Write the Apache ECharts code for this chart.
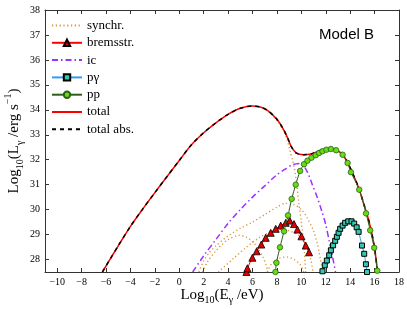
<!DOCTYPE html>
<html><head><meta charset="utf-8">
<script src="https://cdn.jsdelivr.net/npm/echarts@6/dist/echarts.min.js"></script>
<style>html,body{margin:0;padding:0;background:#fff}#c{width:407px;height:309px}</style>
</head><body><div id="c"></div>
<script>
const xTicks = [-10,-8,-6,-4,-2,0,2,4,6,8,10,12,14,16,18];
const yTicks = [28,29,30,31,32,33,34,35,36,37,38];

const total = [[-6.3,27.5],[-5,28.55],[-4,29.33],[-3,30.02],[-2,30.68],[-1,31.33],[0,31.97],[1,32.6],[2,33.08],[3,33.48],[4,33.82],[5,34.06],[6,34.15],[6.7,34.1],[7.3,33.95],[8,33.62],[8.5,33.25],[8.9,32.85],[9.2,32.5],[9.6,32.26],[10.2,32.2],[10.8,32.23],[11.6,32.38],[12.4,32.43],[13.0,32.35],[13.4,32.2],[13.8,31.87],[14.3,31.35],[14.75,30.8],[15.1,30.25],[15.45,29.7],[15.75,29.1],[16.0,28.45],[16.25,27.5]];
const totalAbs = total;
const synchrMain = [[7.3,33.93],[8.0,33.58],[8.5,33.2],[8.86,32.75],[9.0,32.5],[9.13,32.25],[9.27,32.0],[9.4,31.73],[9.6,31.1],[9.81,30.2],[10.0,29.5],[10.15,28.85],[10.25,28.3],[10.36,27.5]];
const synchrOuter = [[1.6,27.5],[2.0,27.95],[2.5,28.3],[3.0,28.55],[4.0,28.95],[5.0,29.25],[6.0,29.5],[7.0,29.8],[8.0,30.1],[8.7,30.25],[9.3,30.22],[10.0,30.0],[10.5,29.65],[11.0,29.15],[11.3,28.65],[11.55,28.05],[11.75,27.5]];
const synchrMid = [[1.9,27.5],[2.3,27.9],[3.0,28.35],[3.5,28.6],[4.0,28.8],[4.9,28.97],[5.5,28.9],[6.1,28.67],[6.5,28.4],[6.85,28.1],[7.1,27.8],[7.25,27.5]];
const synchrInner = [[3.2,27.5],[4.34,28.0],[5.44,28.47],[6.53,28.87],[7.5,29.1],[8.5,29.2],[9.3,29.1],[9.84,28.95],[10.12,28.8],[10.53,28.33],[10.8,27.93],[10.95,27.5]];
const synchrLow = [[7.2,27.5],[7.6,27.85],[8.2,28.05],[8.8,28.1],[9.4,28.0],[9.9,27.8],[10.2,27.5]];
const brems = [[5.5,27.5],[5.58,27.65],[5.99,28.07],[6.34,28.33],[6.72,28.6],[7.08,28.87],[7.49,29.07],[7.9,29.23],[8.31,29.36],[8.72,29.47],[9.05,29.56],[9.4,29.42],[9.68,29.2],[10.01,28.93],[10.36,28.56],[10.63,28.29]];
const ic = [[1.1,27.5],[2.0,28.15],[3.0,28.8],[4.0,29.45],[5.0,30.0],[6.0,30.5],[7.0,30.95],[8.0,31.4],[8.6,31.6],[9.3,31.8],[9.95,31.85],[10.5,31.5],[10.9,31.0],[11.3,30.5],[11.7,29.9],[12.0,29.4],[12.3,28.7],[12.6,28.0],[12.8,27.5]];
const pgamma = [[11.73,27.53],[11.92,27.77],[12.09,27.96],[12.28,28.17],[12.42,28.37],[12.6,28.57],[12.77,28.75],[12.91,28.91],[13.05,29.07],[13.18,29.23],[13.38,29.36],[13.59,29.47],[13.84,29.53],[14.11,29.53],[14.33,29.44],[14.53,29.29],[14.69,29.11],[14.97,28.56],[15.15,28.23],[15.29,27.81],[15.38,27.5]];
const pp = [[7.88,27.5],[7.96,27.87],[8.25,28.49],[8.58,29.13],[8.91,29.77],[9.21,30.43],[9.54,31.0],[9.9,31.55],[10.22,31.82],[10.5,31.96],[10.83,32.08],[11.18,32.18],[11.45,32.27],[11.73,32.34],[12.05,32.4],[12.42,32.43],[12.85,32.38],[13.38,32.2],[13.79,31.87],[14.06,31.5],[14.74,30.8],[15.3,29.85],[15.64,29.17],[15.97,28.47],[16.22,27.55]];

const serif = 'Liberation Serif';
const fmt = v => v < 0 ? '\u2212' + (-v) : String(v);
const axisLine = {onZero:false, lineStyle:{color:'#333', width:1}};
function tick(vals){ return {inside:true, length:4, customValues:vals, lineStyle:{color:'#333', width:1}}; }

const synStyle = {color:'#d9963c', width:1.4, type:[1.2,2.6]};
function syn(d){ return {name:'synchr.', type:'line', data:d, smooth:0.3, symbol:'none', lineStyle:synStyle, itemStyle:{color:'#d9963c'}, z:1}; }
const hideSym = {opacity:0};

const chart = echarts.init(document.getElementById('c'), null, {renderer:'canvas'});
chart.setOption({
  animation:false,
  backgroundColor:'#fff',
  grid:{left:45, right:8, top:10, bottom:37, containLabel:false, outerBoundsMode:'none'},
  legend:{
    orient:'vertical', left:51, top:19, itemWidth:30, itemHeight:8, itemGap:4.3, padding:0,
    data:[{name:'synchr.', itemStyle:hideSym},'bremsstr.',{name:'ic', itemStyle:hideSym},'p\u03b3','pp',{name:'total', itemStyle:hideSym},{name:'total abs.', itemStyle:hideSym}],
    textStyle:{fontFamily:serif, fontSize:13, color:'#000', lineHeight:13}
  },
  xAxis:[
    {type:'value', min:-11, max:18, position:'bottom', axisLine:axisLine, axisTick:tick(xTicks),
     axisLabel:{customValues:xTicks, formatter:fmt, fontFamily:serif, fontSize:10, color:'#000', margin:5},
     splitLine:{show:false},
     name:'{a|Log}{s|10}{a|(E}{s|\u03b3}{a| /eV)}', nameLocation:'middle', nameGap:13, nameMoveOverlap:false,
     nameTextStyle:{rich:{a:{fontFamily:serif, fontSize:15, color:'#000', lineHeight:20, verticalAlign:'middle'}, s:{fontFamily:serif, fontSize:10, color:'#000', lineHeight:10, verticalAlign:'bottom'}}}},
    {type:'value', min:-11, max:18, position:'top', axisLine:axisLine, axisTick:tick(xTicks), axisLabel:{show:false}, splitLine:{show:false}}
  ],
  yAxis:[
    {type:'value', min:27.5, max:38, position:'left', axisLine:axisLine, axisTick:tick(yTicks),
     axisLabel:{customValues:yTicks, fontFamily:serif, fontSize:10, color:'#000', margin:5},
     splitLine:{show:false},
     name:'{a|Log}{s|10}{a|(L}{s|\u03b3}{a| /erg s}{u|\u22121}{a|)}', nameLocation:'middle', nameGap:20, nameRotate:90, nameMoveOverlap:false,
     nameTextStyle:{rich:{a:{fontFamily:serif, fontSize:15, color:'#000', lineHeight:22, verticalAlign:'middle'}, s:{fontFamily:serif, fontSize:10, color:'#000', lineHeight:10, verticalAlign:'bottom'}, u:{fontFamily:serif, fontSize:10, color:'#000', lineHeight:10, verticalAlign:'top'}}}},
    {type:'value', min:27.5, max:38, position:'right', axisLine:axisLine, axisTick:tick(yTicks), axisLabel:{show:false}, splitLine:{show:false}}
  ],
  graphic:[{type:'text', left:319, top:27, style:{text:'Model B', fontFamily:'Liberation Sans', fontSize:15, fill:'#000'}}],
  series:[
    syn(synchrMain), syn(synchrOuter), syn(synchrMid), syn(synchrInner), syn(synchrLow),
    {name:'ic', type:'line', data:ic, smooth:0.3, symbol:'none', lineStyle:{color:'#9b30ff', width:1.5, type:[6,3,1.5,3]}, itemStyle:{color:'#9b30ff'}, z:2},
    {name:'bremsstr.', type:'line', data:brems, smooth:0.3, symbol:'triangle', symbolSize:7, showSymbol:true,
     lineStyle:{color:'#ff0000', width:1}, itemStyle:{color:'#e00000', borderColor:'#000', borderWidth:0.8}, z:3},
    {name:'p\u03b3', type:'line', data:pgamma, smooth:0.3, symbol:'rect', symbolSize:5, showSymbol:true,
     lineStyle:{color:'#3399ff', width:1}, itemStyle:{color:'#33c9b0', borderColor:'#000', borderWidth:1}, z:3},
    {name:'pp', type:'line', data:pp, smooth:0.3, symbol:'circle', symbolSize:5.5, showSymbol:true,
     lineStyle:{color:'#2e5e1a', width:1}, itemStyle:{color:'#66dd11', borderColor:'#2e5e1a', borderWidth:0.8}, z:5},
    {name:'total', type:'line', data:total, smooth:0.3, symbol:'none', lineStyle:{color:'#ff0000', width:1.5}, itemStyle:{color:'#ff0000'}, z:4},
    {name:'total abs.', type:'line', data:totalAbs, smooth:0.3, symbol:'none', lineStyle:{color:'#000', width:1.5, type:[4,4]}, itemStyle:{color:'#000'}, z:4}
  ]
});
</script></body></html>
